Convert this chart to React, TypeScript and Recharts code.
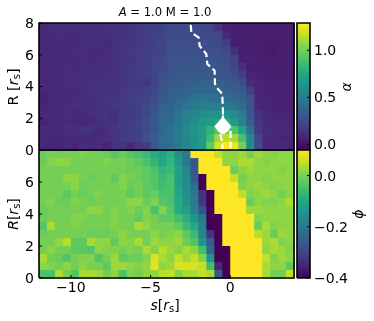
import React from 'react'
import { Scatter, ScatterChart, XAxis, YAxis } from 'recharts'

const FONT = '"DejaVu Sans", sans-serif'
const WIDTH = 374
const HEIGHT = 321
const PLOT_LEFT = 39
const PLOT_RIGHT = 294
const BAR_LEFT = 297
const BAR_RIGHT = 310
const CELL = 7.97

// cell centres
const sCenters = [
  -11.75, -11.25, -10.75, -10.25, -9.75, -9.25, -8.75, -8.25, -7.75, -7.25, -6.75, -6.25, -5.75, -5.25, -4.75, -4.25,
  -3.75, -3.25, -2.75, -2.25, -1.75, -1.25, -0.75, -0.25, 0.25, 0.75, 1.25, 1.75, 2.25, 2.75, 3.25, 3.75,
]
const rCenters = [7.75, 7.25, 6.75, 6.25, 5.75, 5.25, 4.75, 4.25, 3.75, 3.25, 2.75, 2.25, 1.75, 1.25, 0.75, 0.25]

const alphaGrid = [
  [.08,.09,.09,.09,.09,.09,.09,.10,.10,.11,.11,.13,.14,.15,.16,.18,.22,.22,.22,.21,.21,.20,.12,.04,.03,.03,.02,.02,.02,.02,.03,.03],
  [.07,.08,.09,.08,.08,.09,.09,.09,.10,.10,.11,.13,.14,.15,.17,.19,.23,.23,.23,.22,.22,.22,.20,.06,.03,.03,.02,.02,.02,.02,.02,.03],
  [.07,.08,.08,.07,.08,.09,.09,.09,.08,.10,.12,.12,.14,.15,.17,.20,.24,.24,.24,.24,.24,.23,.22,.16,.03,.02,.03,.02,.02,.02,.02,.03],
  [.07,.08,.08,.08,.09,.09,.08,.08,.08,.10,.12,.14,.15,.16,.18,.20,.24,.25,.25,.24,.25,.25,.24,.21,.10,.02,.03,.02,.01,.01,.02,.03],
  [.07,.08,.08,.07,.08,.09,.08,.09,.09,.10,.12,.13,.15,.17,.18,.22,.26,.26,.26,.27,.27,.28,.27,.24,.18,.03,.04,.03,.02,.02,.03,.03],
  [.07,.08,.08,.09,.07,.09,.09,.08,.09,.10,.12,.14,.15,.16,.19,.22,.26,.28,.28,.28,.29,.29,.28,.25,.20,.10,.03,.03,.03,.02,.02,.03],
  [.07,.08,.08,.09,.09,.09,.09,.09,.10,.10,.13,.15,.15,.17,.19,.25,.27,.29,.30,.30,.30,.30,.29,.27,.24,.17,.04,.04,.03,.03,.03,.03],
  [.07,.08,.08,.09,.09,.09,.10,.10,.11,.11,.12,.14,.15,.14,.18,.26,.29,.31,.32,.33,.34,.33,.32,.31,.29,.24,.07,.05,.04,.04,.04,.04],
  [.07,.08,.08,.07,.08,.09,.11,.11,.11,.11,.13,.15,.16,.18,.21,.28,.31,.33,.35,.38,.38,.37,.36,.34,.33,.30,.17,.05,.04,.04,.04,.04],
  [.04,.07,.08,.08,.08,.09,.09,.10,.13,.13,.14,.16,.17,.19,.23,.30,.33,.35,.39,.44,.46,.44,.41,.39,.38,.34,.26,.06,.05,.04,.04,.04],
  [.05,.08,.08,.08,.09,.09,.09,.10,.11,.12,.14,.15,.17,.21,.26,.34,.35,.40,.45,.48,.50,.50,.48,.46,.44,.40,.29,.07,.05,.04,.03,.04],
  [.07,.08,.08,.10,.07,.08,.10,.11,.12,.09,.14,.14,.17,.20,.28,.36,.37,.45,.50,.54,.58,.60,.60,.60,.56,.48,.30,.12,.07,.06,.05,.05],
  [.04,.08,.08,.08,.07,.06,.07,.10,.11,.11,.15,.15,.18,.23,.30,.38,.40,.46,.52,.58,.64,.68,.72,.72,.66,.52,.33,.12,.08,.06,.06,.05],
  [.08,.08,.08,.09,.09,.11,.11,.07,.09,.13,.14,.17,.18,.22,.28,.38,.43,.48,.55,.62,.68,.80,.92,1.0,.90,.72,.44,.14,.08,.08,.07,.07],
  [.07,.06,.06,.08,.08,.08,.07,.08,.10,.12,.15,.15,.17,.25,.30,.40,.42,.48,.54,.60,.66,.85,1.08,1.15,1.10,.88,.55,.20,.08,.08,.05,.06],
  [.06,.04,.05,.09,.05,.09,.08,.09,.05,.11,.12,.07,.14,.15,.30,.38,.42,.47,.55,.60,.66,.95,1.20,1.29,1.25,1.0,.58,.22,.07,.07,.08,.05],
]

const phiGrid = [
  [-.015,-.005,-.005,-.005,-.005,.005,-.005,-.005,-.015,-.035,-.015,-.035,-.045,-.065,-.095,-.115,-.085,-.15,-.20,.1,.1,.1,.055,.015,.015,.025,-.005,.025,.015,.005,.015,.015],
  [-.015,.005,.015,.015,-.005,-.005,-.005,-.005,.005,-.005,-.005,-.015,-.025,-.045,-.075,-.105,-.075,-.13,-.20,-.27,.1,.1,.1,.015,.015,.035,.035,.015,.005,.015,.015,.015],
  [-.005,-.005,-.005,-.005,-.005,-.005,-.005,-.005,-.005,-.005,-.005,-.015,-.015,-.025,-.045,-.075,-.065,-.115,-.17,-.26,.1,.1,.1,.1,-.015,.015,.025,.015,.015,.015,.005,.015],
  [-.005,-.005,-.005,.015,.015,-.005,-.015,-.005,-.005,-.025,.005,-.005,-.015,-.025,-.035,-.065,-.045,-.125,-.165,-.26,-.4,.1,.1,.1,.055,-.005,.015,.015,.005,.015,.015,.015],
  [-.005,-.005,-.005,-.005,.015,-.015,-.005,-.005,-.005,-.005,.005,-.015,-.005,-.025,-.035,-.055,-.045,-.115,-.165,-.22,-.4,.1,.1,.1,.1,.005,.015,.025,.015,.005,.015,.015],
  [-.005,-.005,-.005,-.025,-.005,-.015,-.005,.005,-.005,-.005,-.005,-.025,-.005,-.025,-.015,-.045,-.045,-.105,-.155,-.20,-.33,-.4,.1,.1,.1,.055,.005,.015,.025,.015,-.005,.015],
  [-.005,.005,-.015,-.015,.005,-.005,-.015,-.005,-.005,-.005,-.005,.015,.015,-.015,.005,-.035,-.045,-.095,-.145,-.19,-.32,-.4,.1,.1,.1,.1,-.015,.015,.005,.005,.015,.035],
  [-.015,-.005,-.005,-.005,-.005,-.005,.015,.015,-.005,.005,-.005,.005,-.015,.005,-.045,.005,-.035,-.095,-.125,-.185,-.27,-.4,.1,.1,.1,.1,.025,.025,.015,.015,.015,.015],
  [-.015,-.005,-.005,-.005,.005,.005,-.005,-.005,-.005,.005,-.005,-.005,-.025,.005,-.005,-.025,-.025,-.055,-.085,-.145,-.20,-.4,-.4,.1,.1,.1,.1,.005,.015,.015,.015,.015],
  [-.035,.035,-.005,-.005,.005,-.005,-.005,-.005,-.005,.005,-.005,-.005,.035,.015,-.005,-.005,-.005,-.025,-.065,-.095,-.185,-.4,-.4,.1,.1,.1,.1,-.015,.035,.005,.015,.015],
  [-.015,-.005,-.005,-.005,-.005,-.005,-.015,-.015,-.015,-.005,.015,-.005,-.005,-.005,.015,-.005,.005,.015,-.025,-.065,-.175,-.33,-.4,.1,.1,.1,.1,.045,.025,-.015,.025,.015],
  [-.005,-.005,.015,.045,-.025,-.025,.035,.015,.015,-.025,.015,.005,.035,-.005,.025,.015,.015,.025,-.015,-.035,-.145,-.26,-.4,.1,.1,.1,.1,.1,.025,.035,.005,.015],
  [-.005,.015,-.005,-.005,-.025,-.025,-.035,.015,.005,.005,-.005,.005,-.005,.035,.005,.045,.025,.005,.035,.015,-.055,-.23,-.4,-.4,.1,.1,.1,.1,.015,.035,.025,.005],
  [.035,-.005,-.015,-.035,-.005,.005,.005,-.035,-.005,.025,-.025,-.015,-.015,.005,.07,.035,.015,.055,.025,.055,.005,-.145,-.4,-.4,.1,.1,.1,.1,.055,.005,.025,.015],
  [.015,.005,-.005,.015,-.005,.015,-.005,-.005,-.025,.025,.025,.015,.005,.015,.08,.015,.025,.07,.07,.07,.055,-.055,-.35,-.4,.1,.1,.1,.1,.035,.015,.015,-.025],
  [-.045,-.045,.035,-.005,-.035,.035,.035,.025,-.005,.015,-.045,.005,-.005,.015,.015,.045,.055,.005,.035,.035,.055,.035,-.26,-.4,.1,.1,.1,.1,.035,-.005,-.005,.055],
]

// dashed ridge lines
const ridgeS = [-2.48, -2.44, -1.98, -1.92, -1.5, -1.44, -0.98, -0.96, -0.88, -0.5, -0.46, -0.46]
const ridgeR = [7.88, 7.4, 7.08, 6.56, 6.04, 5.42, 5.0, 4.17, 3.96, 3.54, 2.5, 1.5]
const leftLegS = [-0.62, -0.5, -0.48]
const leftLegR = [1.0, 0.4, 0]
const rightLegS = [0.02, 0.02]
const rightLegR = [1.2, 0]
const peakS = [-0.46]
const peakR = [1.5]

const sDomain = [-12, 4]
const rDomain = [0, 8]
const sTicks = [-10, -5, 0]
const rTopTicks = [0, 2, 4, 6, 8]
const rBottomTicks = [0, 2, 4, 6]
const alphaDomain = [-0.06, 1.29]
const alphaColorDomain = [-0.09, 1.29]
const alphaTicks = [0, 0.5, 1]
const phiDomain = [-0.4, 0.1]
const phiTicks = [-0.4, -0.2, 0]

const viridis = [
  '#440154', '#482475', '#414487', '#355f8d', '#2a788e', '#21918c', '#22a884', '#44bf70', '#7ad151', '#bddf26', '#fde725',
]

function mix(t: number) {
  const c = Math.max(0, Math.min(1, t)) * (viridis.length - 1)
  const i = Math.min(Math.floor(c), viridis.length - 2)
  const a = viridis[i]
  const b = viridis[i + 1]
  const ch = (h: string, k: number) => parseInt(h.slice(k, k + 2), 16)
  const v = (k: number) => Math.round(ch(a, k) + (ch(b, k) - ch(a, k)) * (c - i))
  return `rgb(${v(1)},${v(3)},${v(5)})`
}

const toCells = (grid: number[][], domain: number[]) =>
  grid.flatMap((row, j) =>
    row.map((v, i) => ({ s: sCenters[i], r: rCenters[j], color: mix((v - domain[0]) / (domain[1] - domain[0])) })),
  )

const toLine = (xs: number[], ys: number[]) => xs.map((s, i) => ({ s, r: ys[i] }))

// closed outline along the four axis limits
const outline = (xd: number[], yd: number[], xKey: string, yKey: string) =>
  [
    [xd[0], yd[0]],
    [xd[1], yd[0]],
    [xd[1], yd[1]],
    [xd[0], yd[1]],
    [xd[0], yd[0]],
  ].map(([x, y]) => ({ [xKey]: x, [yKey]: y }))

const minus = (v: number | string) => String(v).replace('-', '\u2212')
const tickStyle = { fontSize: 14, fontFamily: FONT, fill: '#000' }
const stage: React.CSSProperties = { position: 'absolute', left: 0, top: 0 }
const frameLine = { stroke: '#000', strokeWidth: 1.6 }

// later cells paint over the small overhang, so no seams show
const CellShape = (p: any) => (
  <rect x={p.cx - CELL / 2} y={p.cy - CELL / 2} width={CELL + 0.7} height={CELL + 0.7} fill={p.payload.color} />
)
const NoDot = () => <g />
const PeakShape = (p: any) => (
  <path
    d={`M${p.cx} ${p.cy - 13} L${p.cx + 1.5} ${p.cy - 8} L${p.cx + 8.5} ${p.cy} L${p.cx + 5} ${p.cy + 5} L${p.cx + 1} ${p.cy + 8} L${p.cx - 1} ${p.cy + 8} L${p.cx - 5} ${p.cy + 5} L${p.cx - 8.5} ${p.cy} L${p.cx - 1.5} ${p.cy - 8} Z`}
    fill="#fff"
  />
)

const dash = { stroke: '#fff', strokeWidth: 2.2, strokeDasharray: '7 3.5' }

function Panel({ cells, top, bottom, ticks, showS, children }: any) {
  return (
    <>
      <div style={stage}>
        <ScatterChart
          width={WIDTH}
          height={HEIGHT}
          margin={{ top, right: WIDTH - PLOT_RIGHT, bottom: HEIGHT - bottom, left: PLOT_LEFT }}
        >
          <XAxis xAxisId="x" type="number" dataKey="s" domain={sDomain} hide />
          <YAxis yAxisId="y" type="number" dataKey="r" domain={rDomain} hide />
          <Scatter xAxisId="x" yAxisId="y" data={cells} shape={CellShape} isAnimationActive={false} />
        </ScatterChart>
      </div>
      <div style={stage}>
        <ScatterChart width={WIDTH} height={HEIGHT} margin={{ top, right: 0, bottom: 0, left: 0 }}>
          <XAxis
            xAxisId="bottom"
            type="number"
            dataKey="s"
            domain={sDomain}
            ticks={sTicks}
            height={HEIGHT - bottom}
            tick={showS ? tickStyle : false}
            tickFormatter={minus}
            tickSize={-3}
            tickMargin={7}
            axisLine={false}
            stroke="#000"
          />
          <XAxis
            xAxisId="top"
            orientation="top"
            type="number"
            domain={sDomain}
            ticks={sTicks}
            allowDataOverflow
            height={0}
            tick={false}
            tickSize={-3}
            axisLine={false}
            stroke="#000"
          />
          <YAxis
            yAxisId="left"
            type="number"
            dataKey="r"
            domain={rDomain}
            ticks={ticks}
            width={PLOT_LEFT}
            tick={tickStyle}
            tickSize={-3}
            tickMargin={8}
            axisLine={false}
            stroke="#000"
          />
          <YAxis
            yAxisId="right"
            orientation="right"
            type="number"
            domain={rDomain}
            ticks={ticks}
            allowDataOverflow
            width={WIDTH - PLOT_RIGHT}
            tick={false}
            tickSize={-3}
            axisLine={false}
            stroke="#000"
          />
          {children}
          <Scatter
            xAxisId="bottom"
            yAxisId="left"
            data={outline(sDomain, rDomain, 's', 'r')}
            line={frameLine}
            shape={NoDot}
            isAnimationActive={false}
          />
        </ScatterChart>
      </div>
    </>
  )
}

function ColorBar({ id, domain, ticks, top, bottom }: any) {
  const BarShape = (p: any) => (
    <rect
      x={p.cx - (BAR_RIGHT - BAR_LEFT) / 2}
      y={p.cy - (bottom - top) / 2}
      width={BAR_RIGHT - BAR_LEFT}
      height={bottom - top}
      fill={`url(#${id})`}
    />
  )
  return (
    <>
      <div style={stage}>
        <ScatterChart
          width={WIDTH}
          height={HEIGHT}
          margin={{ top, right: WIDTH - BAR_RIGHT, bottom: HEIGHT - bottom, left: BAR_LEFT }}
        >
          <defs>
            <linearGradient id={id} x1="0" y1="1" x2="0" y2="0">
              {viridis.map((c, i) => (
                <stop key={c} offset={i / (viridis.length - 1)} stopColor={c} />
              ))}
            </linearGradient>
          </defs>
          <XAxis xAxisId="x" type="number" dataKey="x" domain={[0, 1]} hide />
          <YAxis yAxisId="y" type="number" dataKey="y" domain={domain} hide />
          <Scatter
            xAxisId="x"
            yAxisId="y"
            data={[{ x: 0.5, y: (domain[0] + domain[1]) / 2 }]}
            shape={BarShape}
            isAnimationActive={false}
          />
        </ScatterChart>
      </div>
      <div style={stage}>
        <ScatterChart width={WIDTH} height={HEIGHT} margin={{ top, right: 0, bottom: HEIGHT - bottom, left: BAR_LEFT }}>
          <XAxis xAxisId="x" type="number" dataKey="x" domain={[0, 1]} hide />
          <YAxis
            yAxisId="y"
            orientation="right"
            type="number"
            dataKey="y"
            domain={domain}
            ticks={ticks}
            width={WIDTH - BAR_RIGHT}
            tick={tickStyle}
            tickFormatter={(v: number) => minus(v.toFixed(1))}
            tickSize={-3}
            tickMargin={7}
            axisLine={false}
            stroke="#000"
          />
          <Scatter
            xAxisId="x"
            yAxisId="y"
            data={outline([0, 1], domain, 'x', 'y')}
            line={frameLine}
            shape={NoDot}
            isAnimationActive={false}
          />
        </ScatterChart>
      </div>
    </>
  )
}

function Labels() {
  const t = { fontFamily: FONT, fill: '#000' }
  return (
    <svg width={WIDTH} height={HEIGHT} style={{ ...stage, pointerEvents: 'none' }}>
      <text x={165} y={16} fontSize={11.6} textAnchor="middle" {...t}>
        <tspan fontStyle="italic">A</tspan> = 1.0 M = 1.0
      </text>
      <text transform="translate(18 87) rotate(-90)" fontSize={14.5} textAnchor="middle" {...t}>
        R [<tspan fontStyle="italic">r</tspan>
        <tspan fontSize={10} dy={2}>s</tspan>
        <tspan dy={-2}>]</tspan>
      </text>
      <text transform="translate(18 214) rotate(-90)" fontSize={14} textAnchor="middle" {...t}>
        <tspan fontStyle="italic">R</tspan>[<tspan fontStyle="italic">r</tspan>
        <tspan fontSize={10} dy={2}>s</tspan>
        <tspan dy={-2}>]</tspan>
      </text>
      <text x={165} y={310} fontSize={14} textAnchor="middle" {...t}>
        <tspan fontStyle="italic">s</tspan>[<tspan fontStyle="italic">r</tspan>
        <tspan fontSize={10} dy={2}>s</tspan>
        <tspan dy={-2}>]</tspan>
      </text>
      <text transform="translate(351 87) rotate(-90)" fontSize={14} textAnchor="middle" fontStyle="italic" {...t}>
        α
      </text>
      <text transform="translate(363 214) rotate(-90)" fontSize={14} textAnchor="middle" fontStyle="italic" {...t}>
        ϕ
      </text>
    </svg>
  )
}

export default function App() {
  const alphaCells = toCells(alphaGrid, alphaColorDomain)
  const phiCells = toCells(phiGrid, phiDomain)
  return (
    <div style={{ ...stage, width: WIDTH, height: HEIGHT, background: '#fff', filter: 'blur(0.35px)' }}>
      <Panel cells={phiCells} top={150} bottom={278} ticks={rBottomTicks} showS />
      <Panel cells={alphaCells} top={23} bottom={150} ticks={rTopTicks}>
        <Scatter xAxisId="bottom" yAxisId="left" data={toLine(ridgeS, ridgeR)} line={dash} shape={NoDot} isAnimationActive={false} />
        <Scatter xAxisId="bottom" yAxisId="left" data={toLine(leftLegS, leftLegR)} line={dash} shape={NoDot} isAnimationActive={false} />
        <Scatter xAxisId="bottom" yAxisId="left" data={toLine(rightLegS, rightLegR)} line={dash} shape={NoDot} isAnimationActive={false} />
        <Scatter xAxisId="bottom" yAxisId="left" data={toLine(peakS, peakR)} shape={PeakShape} isAnimationActive={false} />
      </Panel>
      <ColorBar id="alphaBar" domain={alphaDomain} ticks={alphaTicks} top={23} bottom={150} />
      <ColorBar id="phiBar" domain={phiDomain} ticks={phiTicks} top={150} bottom={278} />
      <Labels />
    </div>
  )
}
